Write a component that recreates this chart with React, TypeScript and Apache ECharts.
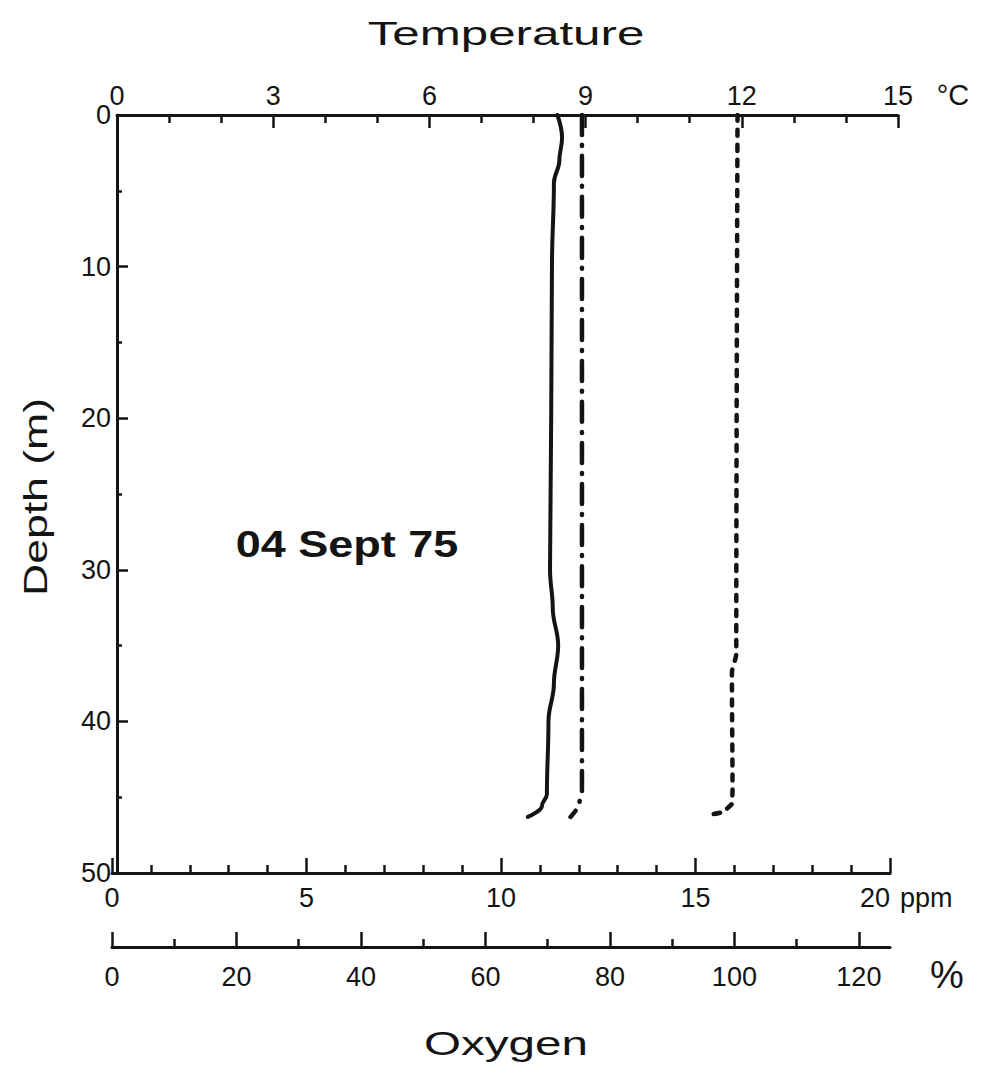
import React, { useEffect, useRef } from "react";
import * as echarts from "echarts";

// Temperature profile (°C) vs depth (m) — dash-dot line
const tempDepth = [0, 44.7, 45.4, 46.3];
const tempValues = [8.93, 8.93, 8.88, 8.71];

// Oxygen concentration (ppm) vs depth (m) — solid line
const ppmDepth = [0, 1.5, 3, 4.5, 10, 20, 30, 32.5, 35, 37.5, 40, 44.8, 45.6, 46.3];
const ppmValues = [11.45, 11.57, 11.5, 11.36, 11.31, 11.29, 11.26, 11.33, 11.47, 11.36, 11.22, 11.18, 11.05, 10.69];

// Oxygen saturation (%) vs depth (m) — dashed line
const pctDepth = [0, 35.5, 36.8, 44.6, 45.4, 45.9, 46.2];
const pctValues = [100.5, 100.3, 99.6, 99.7, 99.6, 98.6, 95.5];

const pctMajorTicks = [0, 20, 40, 60, 80, 100, 120];
const pctMinorTicks = [10, 30, 50, 70, 90, 110];

const FONT = '"Liberation Sans", Arial, Helvetica, sans-serif';
const INK = "#141414";

function zip(xs: number[], ys: number[]) {
  return xs.map((x, i) => [x, ys[i]]);
}

export default function App() {
  const ref = useRef<HTMLDivElement>(null);
  useEffect(() => {
    if (!ref.current) return;
    const chart = echarts.init(ref.current, undefined, { renderer: "svg" });
    const tickStyle = { color: INK, width: 2.5 };
    const label = { fontSize: 27, color: INK, fontFamily: FONT };
    const text = (t: string, x: number, y: number, font: string, extra: any = {}) => ({
      type: "text",
      x,
      y,
      ...extra,
      style: {
        text: t,
        font,
        fill: INK,
        textAlign: extra.align || "center",
        textVerticalAlign: "middle",
        align: extra.align || "center",
        verticalAlign: "middle",
      },
    });
    chart.setOption({
      animation: false,
      backgroundColor: "#ffffff",
      grid: [
        { left: 117, top: 115, width: 781, height: 758 },
        { left: 112, top: 115, width: 778, height: 758 },
      ],
      xAxis: [
        {
          gridIndex: 0,
          type: "value",
          position: "top",
          min: 0,
          max: 15,
          interval: 3,
          axisLine: { show: true, onZero: false, lineStyle: { color: INK, width: 3 } },
          axisTick: { show: true, inside: true, length: 13, lineStyle: tickStyle },
          minorTick: { show: true, splitNumber: 3, length: 8, lineStyle: tickStyle },
          axisLabel: { ...label, margin: 6 },
          splitLine: { show: false },
        },
        {
          gridIndex: 1,
          type: "value",
          position: "bottom",
          min: 0,
          max: 20,
          interval: 5,
          axisLine: { show: true, onZero: false, lineStyle: { color: INK, width: 3 } },
          axisTick: { show: true, inside: true, length: 15, lineStyle: tickStyle },
          minorTick: { show: true, splitNumber: 5, length: 8, lineStyle: tickStyle },
          axisLabel: { ...label, margin: 11, alignMaxLabel: "right" },
          splitLine: { show: false },
        },
        {
          gridIndex: 1,
          type: "value",
          position: "bottom",
          offset: 74,
          min: 0,
          max: 125,
          axisLine: { show: true, onZero: false, lineStyle: { color: INK, width: 3 } },
          axisTick: { show: true, inside: true, length: 15, lineStyle: tickStyle, customValues: pctMajorTicks },
          axisLabel: { ...label, margin: 16, customValues: pctMajorTicks },
          splitLine: { show: false },
        },
        {
          gridIndex: 1,
          type: "value",
          position: "bottom",
          offset: 74,
          min: 0,
          max: 125,
          axisLine: { show: false, onZero: false },
          axisTick: { show: true, inside: true, length: 8, lineStyle: tickStyle, customValues: pctMinorTicks },
          axisLabel: { show: false },
          splitLine: { show: false },
        },
      ],
      yAxis: [
        {
          gridIndex: 0,
          type: "value",
          inverse: true,
          min: 0,
          max: 50,
          interval: 10,
          axisLine: { show: true, onZero: false, lineStyle: { color: INK, width: 3 } },
          axisTick: { show: true, inside: true, length: 11, lineStyle: tickStyle },
          minorTick: { show: true, splitNumber: 2, length: 5, lineStyle: tickStyle },
          axisLabel: { ...label, margin: 6 },
          splitLine: { show: false },
        },
        {
          gridIndex: 1,
          type: "value",
          inverse: true,
          min: 0,
          max: 50,
          show: false,
        },
      ],
      series: [
        {
          name: "Temperature",
          type: "line",
          xAxisIndex: 0,
          yAxisIndex: 0,
          data: zip(tempValues, tempDepth),
          showSymbol: false,
          smooth: 0.3,
          smoothMonotone: "y",
          lineStyle: { color: INK, width: 4.5, type: [20, 10, 1, 10], cap: "round" },
        },
        {
          name: "Oxygen ppm",
          type: "line",
          xAxisIndex: 1,
          yAxisIndex: 1,
          data: zip(ppmValues, ppmDepth),
          showSymbol: false,
          smooth: 0.4,
          smoothMonotone: "y",
          lineStyle: { color: INK, width: 4, cap: "round" },
        },
        {
          name: "Oxygen %",
          type: "line",
          xAxisIndex: 2,
          yAxisIndex: 1,
          data: zip(pctValues, pctDepth),
          showSymbol: false,
          smooth: 0.3,
          smoothMonotone: "y",
          lineStyle: { color: INK, width: 4.5, type: [6, 9], cap: "round" },
        },
      ],
      graphic: [
        text("Temperature", 506, 33, `34px ${FONT}`, { scaleX: 1.45 }),
        text("°C", 953, 95, `29px ${FONT}`),
        text("Depth (m)", 36, 497, `33px ${FONT}`, { rotation: Math.PI / 2, scaleX: 1.35 }),
        text("04 Sept 75", 347, 545, `bold 36px ${FONT}`, { scaleX: 1.25 }),
        text("ppm", 900, 898, `27px ${FONT}`, { align: "left" }),
        text("%", 947, 975, `38px ${FONT}`),
        text("Oxygen", 506, 1043, `34px ${FONT}`, { scaleX: 1.4 }),
      ],
    });
    return () => chart.dispose();
  }, []);
  return (
    <div
      ref={ref}
      style={{ position: "fixed", left: 0, top: 0, width: 995, height: 1079, background: "#fff" }}
    />
  );
}
